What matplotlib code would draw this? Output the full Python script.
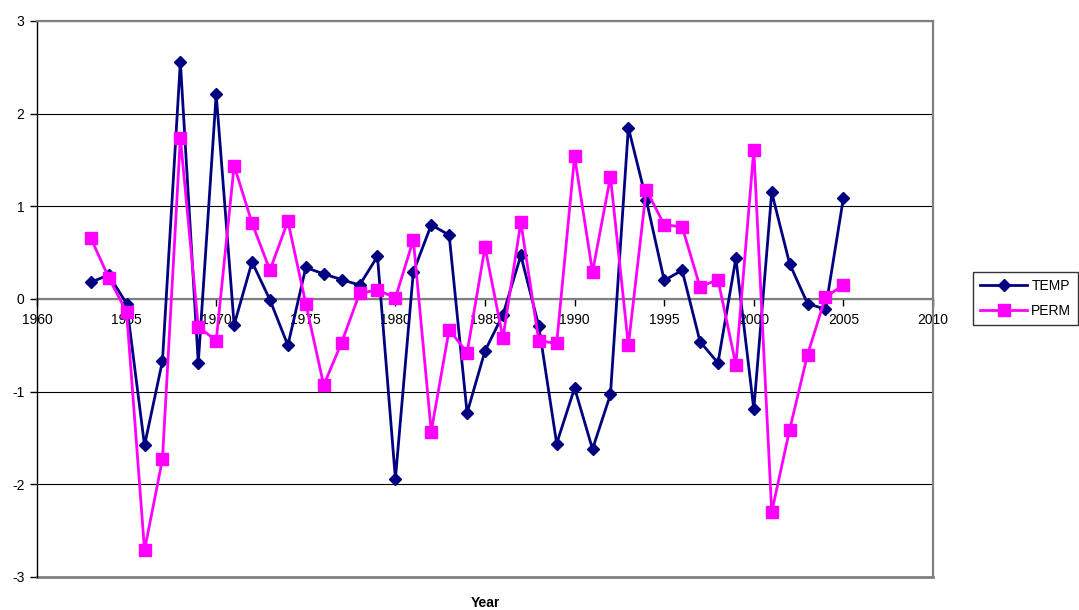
#!/usr/bin/env python3
"""
TEMP vs PERM yearly series, Excel-style line chart
"""
import matplotlib
matplotlib.use("Agg")
import matplotlib.pyplot as plt

# Data
years = list(range(1963, 2006))

temp = [0.18, 0.26, -0.05, -1.58, -0.67, 2.56, -0.69, 2.21, -0.28, 0.40,
        -0.01, -0.50, 0.34, 0.27, 0.21, 0.15, 0.46, -1.94, 0.29, 0.80,
        0.69, -1.23, -0.56, -0.17, 0.47, -0.29, -1.56, -0.96, -1.62, -1.03,
        1.85, 1.07, 0.20, 0.31, -0.46, -0.69, 0.44, -1.19, 1.15, 0.38,
        -0.05, -0.11, 1.09]

perm = [0.66, 0.23, -0.14, -2.71, -1.73, 1.74, -0.30, -0.45, 1.44, 0.82,
        0.31, 0.84, -0.05, -0.93, -0.47, 0.06, 0.10, 0.01, 0.64, -1.43,
        -0.33, -0.58, 0.56, -0.42, 0.83, -0.45, -0.48, 1.54, 0.29, 1.32,
        -0.50, 1.18, 0.80, 0.78, 0.13, 0.21, -0.71, 1.61, -2.30, -1.41,
        -0.60, 0.02, 0.15]

x_ticks = list(range(1960, 2011, 5))
y_ticks = list(range(-3, 4))

plt.rcParams['font.family'] = ['Liberation Sans', 'DejaVu Sans']
plt.rcParams['axes.unicode_minus'] = False

fig = plt.figure(figsize=(10.79, 6.10), dpi=100)
ax = fig.add_axes([37 / 1079, 1 - 577 / 610, (933 - 37) / 1079, (577 - 21) / 610])

ax.plot(years, temp, color='#000080', linewidth=2.0, marker='D',
        markersize=6.5, label='TEMP', zorder=3)
ax.plot(years, perm, color='#FF00FF', linewidth=2.0, marker='s',
        markersize=9, label='PERM', zorder=4)

ax.set_xlim(1960, 2010)
ax.set_ylim(-3, 3)
ax.set_xticks(x_ticks)
ax.set_yticks(y_ticks)

# horizontal gridlines
ax.yaxis.grid(True, color='black', linewidth=0.8, zorder=1)
ax.set_axisbelow(True)

# Excel-like frame: x axis crossing at zero
ax.spines['bottom'].set_position(('data', 0))
ax.spines['bottom'].set_color('#808080')
ax.spines['bottom'].set_linewidth(1.6)
ax.spines['bottom'].set_zorder(2)
ax.spines['top'].set_color('#808080')
ax.spines['top'].set_linewidth(1.6)
ax.spines['right'].set_color('#808080')
ax.spines['right'].set_linewidth(1.6)
ax.spines['left'].set_color('black')
ax.spines['left'].set_linewidth(1.0)
ax.axhline(-3, color='#808080', linewidth=2.0, zorder=2, clip_on=False)

ax.tick_params(axis='x', direction='out', length=5, width=1, color='black',
               labelsize=10, pad=5)
ax.tick_params(axis='y', direction='out', length=5, width=1, color='black',
               labelsize=10, pad=4)

fig.text(485 / 1079, 1 - 603 / 610, 'Year', ha='center', va='center',
         fontsize=10, fontweight='bold')

leg = fig.legend(loc='upper left', bbox_to_anchor=(973 / 1079, 1 - 272 / 610),
                 frameon=True, fancybox=False, fontsize=10, borderpad=0.5,
                 handlelength=3.4, handletextpad=0.3, labelspacing=0.8,
                 borderaxespad=0)
leg.get_frame().set_edgecolor('black')
leg.get_frame().set_linewidth(1.0)

plt.savefig('out.png', dpi=100)
plt.close()
